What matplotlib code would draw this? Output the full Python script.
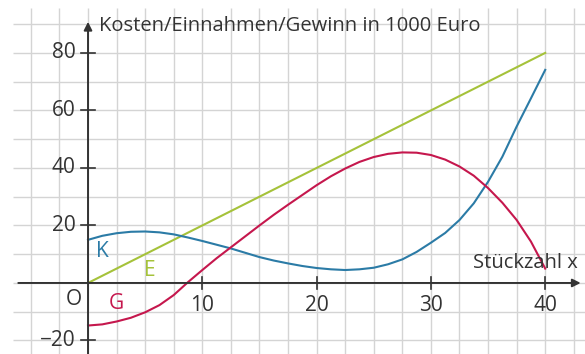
import numpy as np
import matplotlib.pyplot as plt

plt.rcParams['font.family'] = ['Open Sans', 'DejaVu Sans']

# values (Stückzahl x, 1000 Euro)
x = [0, 1.25, 2.5, 3.75, 5, 6.25, 7.5, 8.75, 10, 11.25, 12.5, 13.75, 15, 16.25,
     17.5, 18.75, 20, 21.25, 22.5, 23.75, 25, 26.25, 27.5, 28.75, 30, 31.25,
     32.5, 33.75, 35, 36.25, 37.5, 38.75, 40]
K = [15.0, 16.4, 17.3, 17.8, 17.9, 17.6, 16.9, 15.8, 14.6, 13.3, 12.0, 10.5, 9.0, 7.8,
     6.8, 5.9, 5.2, 4.75, 4.5, 4.75, 5.3, 6.5, 8.2, 10.8, 14.0, 17.4,
     21.9, 27.7, 35.2, 43.9, 54.4, 64.2, 74.1]
G = [-14.8, -14.4, -13.4, -12.1, -10.2, -7.7, -4.2, 0.3, 4.5, 8.6, 12.4, 16.2, 20.0, 23.7,
     27.2, 30.6, 34.0, 37.1, 39.8, 42.1, 43.8, 44.9, 45.4, 45.3, 44.5, 42.9,
     40.5, 37.3, 33.0, 27.9, 21.9, 14.4, 5.0]
xE = [0, 40]
E = [0, 80]

xticks = [10, 20, 30, 40]
yticks = [-20, 20, 40, 60, 80]

c_k = '#2b7ba6'
c_e = '#a5c23a'
c_g = '#c5174d'
c_txt = '#333333'

fig = plt.figure(figsize=(5.85, 3.54), dpi=100)
ax = fig.add_axes([0, 0, 1, 1])
ax.set_xlim(-7.70, 43.48)
ax.set_ylim(-24.7, 98.4)
ax.axis('off')

# grid
ax.vlines(np.arange(-5, 43, 2.5), -24.7, 95.6, color='#d4d4d4', lw=1, zorder=0)
ax.hlines(np.arange(-20, 91, 10), -6.6, 43.5, color='#d4d4d4', lw=1, zorder=0)

# axes with arrows
ax.annotate('', xy=(43.1, 0), xytext=(-6.1, 0),
            arrowprops=dict(arrowstyle='-|>', color=c_txt, lw=1.4,
                            mutation_scale=12, shrinkA=0, shrinkB=0))
ax.annotate('', xy=(0, 90.8), xytext=(0, -24.7),
            arrowprops=dict(arrowstyle='-|>', color=c_txt, lw=1.4,
                            mutation_scale=12, shrinkA=0, shrinkB=0))

for t in xticks:
    ax.plot([t, t], [-2.1, 2.1], color=c_txt, lw=1.2)
    ax.text(t, -7.7, str(t), ha='center', va='center', fontsize=15, color=c_txt)
for t in yticks:
    ax.plot([-0.6, 0.6], [t, t], color=c_txt, lw=1.2)
    lab = '\u2212' + str(-t) if t < 0 else str(t)
    ax.text(-1.1, t, lab, ha='right', va='center', fontsize=15, color=c_txt)

ax.text(-0.55, -5.8, 'O', ha='right', va='center', fontsize=15, color=c_txt)
ax.text(1.0, 89.2, 'Kosten/Einnahmen/Gewinn in 1000 Euro', ha='left', va='center',
        fontsize=14.5, color=c_txt)
ax.text(33.7, 7.0, 'Stückzahl x', ha='left', va='center', fontsize=14.5, color=c_txt)

# curves
ax.plot(xE, E, color=c_e, lw=1.5)
ax.plot(x, K, color=c_k, lw=1.5)
ax.plot(x, G, color=c_g, lw=1.5)

ax.text(1.3, 10.8, 'K', ha='center', va='center', fontsize=15, color=c_k)
ax.text(5.4, 4.5, 'E', ha='center', va='center', fontsize=15, color=c_e)
ax.text(2.5, -7.0, 'G', ha='center', va='center', fontsize=15, color=c_g)

fig.savefig('out.png', dpi=100)
